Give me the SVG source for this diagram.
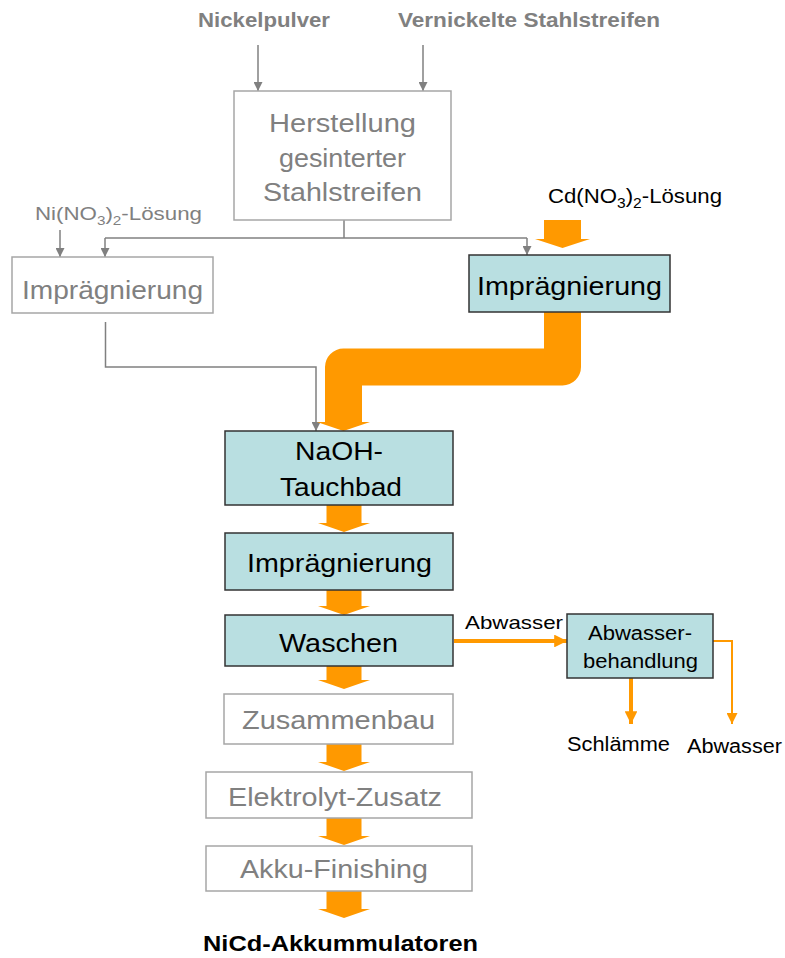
<svg xmlns="http://www.w3.org/2000/svg" width="785" height="958" viewBox="0 0 785 958">
<style>
text{font-family:"Liberation Sans",Arial,sans-serif}
.hdr{font-size:20px;font-weight:bold;fill:#808080;text-anchor:middle}
.gbox{fill:#ffffff;stroke:#a6a6a6;stroke-width:1.5}
.tbox{fill:#b9dfe1;stroke:#333333;stroke-width:1.5}
.gt{font-size:26px;fill:#808080;text-anchor:middle}
.bt{font-size:26px;fill:#000000;text-anchor:middle}
.st{font-size:20px;fill:#000000;text-anchor:middle}
.gline{fill:none;stroke:#808080;stroke-width:1.5}
.oarr{fill:#ff9900}
.oline{fill:none;stroke:#ff9900}
</style>
<defs>
<marker id="ga" viewBox="0 0 10 10" refX="10" refY="5" markerWidth="6.5" markerHeight="6" orient="auto" markerUnits="strokeWidth">
<path d="M0,0 L10,5 L0,10 z" fill="#808080"/>
</marker>
<marker id="oa" viewBox="0 0 10 10" refX="10" refY="5" markerWidth="3.2" markerHeight="3.2" orient="auto" markerUnits="strokeWidth">
<path d="M0,0 L10,5 L0,10 z" fill="#ff9900"/>
</marker>
<marker id="oa2" viewBox="0 0 10 10" refX="10" refY="5" markerWidth="5.5" markerHeight="5.5" orient="auto" markerUnits="strokeWidth">
<path d="M0,0 L10,5 L0,10 z" fill="#ff9900"/>
</marker>
</defs>

<g id="inputs">
<text class="hdr" x="264" y="27" textLength="132" lengthAdjust="spacingAndGlyphs">Nickelpulver</text>
<text class="hdr" x="529" y="27" textLength="262" lengthAdjust="spacingAndGlyphs">Vernickelte Stahlstreifen</text>
<text x="35" y="220" font-size="19" fill="#808080" textLength="167" lengthAdjust="spacingAndGlyphs">Ni(NO<tspan font-size="13" dy="5">3</tspan><tspan dy="-5">)</tspan><tspan font-size="13" dy="5">2</tspan><tspan dy="-5">-Lösung</tspan></text>
<text x="548" y="203" font-size="20" fill="#000000" textLength="174" lengthAdjust="spacingAndGlyphs">Cd(NO<tspan font-size="14" dy="5">3</tspan><tspan dy="-5">)</tspan><tspan font-size="14" dy="5">2</tspan><tspan dy="-5">-Lösung</tspan></text>
</g>

<g id="connectors">
<line class="gline" x1="258" y1="45" x2="258" y2="91" marker-end="url(#ga)"/>
<line class="gline" x1="423" y1="45" x2="423" y2="91" marker-end="url(#ga)"/>
<polyline class="gline" points="344,220 344,238"/>
<polyline class="gline" points="105,238 527,238"/>
<line class="gline" x1="105" y1="238" x2="105" y2="257" marker-end="url(#ga)"/>
<line class="gline" x1="527" y1="238" x2="527" y2="255" marker-end="url(#ga)"/>
<line class="gline" x1="60" y1="230" x2="60" y2="257" marker-end="url(#ga)"/>
<polyline class="gline" points="105.5,322 105.5,367 316,367 316,431" marker-end="url(#ga)"/>
<polygon class="oarr" points="544,220 581,220 581,239 590,239 562.5,248 535,239 544,239"/>
<path d="M562.5,312 V367 H343.5 V423" fill="none" stroke="#ff9900" stroke-width="37" stroke-linejoin="round"/>
<polygon class="oarr" points="317,422 370,422 343.5,431"/>
<polygon class="oarr" points="326.5,505 361.5,505 361.5,523 370,523 344,532 318,523 326.5,523"/>
<polygon class="oarr" points="326.5,590 361.5,590 361.5,606 370,606 344,615 318,606 326.5,606"/>
<polygon class="oarr" points="326.5,666 361.5,666 361.5,680 370,680 344,689 318,680 326.5,680"/>
<polygon class="oarr" points="326.5,744 361.5,744 361.5,762 370,762 344,771 318,762 326.5,762"/>
<polygon class="oarr" points="326.5,818 361.5,818 361.5,836 370,836 344,845 318,836 326.5,836"/>
<polygon class="oarr" points="326.5,891 361.5,891 361.5,909 370,909 344,918 318,909 326.5,909"/>
<line class="oline" stroke-width="4" x1="454" y1="641" x2="567" y2="641" marker-end="url(#oa)"/>
<line class="oline" stroke-width="4" x1="631" y1="678" x2="631" y2="724" marker-end="url(#oa)"/>
<polyline class="oline" stroke-width="2" points="713,641 732,641 732,724" marker-end="url(#oa2)"/>
<text x="465" y="629" font-size="19" fill="#000" textLength="98" lengthAdjust="spacingAndGlyphs">Abwasser</text>
</g>

<g id="herstellung">
<rect class="gbox" x="234" y="91" width="217" height="129"/>
<text class="gt" x="342.5" y="132" textLength="147" lengthAdjust="spacingAndGlyphs">Herstellung</text>
<text class="gt" x="342.5" y="167" textLength="127" lengthAdjust="spacingAndGlyphs">gesinterter</text>
<text class="gt" x="342.5" y="201" textLength="159" lengthAdjust="spacingAndGlyphs">Stahlstreifen</text>
</g>

<g id="impraegnierung-ni">
<rect class="gbox" x="12" y="257" width="201" height="56"/>
<text class="gt" x="112.5" y="299" textLength="181" lengthAdjust="spacingAndGlyphs">Imprägnierung</text>
</g>

<g id="impraegnierung-cd">
<rect class="tbox" x="469" y="255" width="201" height="57"/>
<text class="bt" x="569.5" y="295" textLength="185" lengthAdjust="spacingAndGlyphs">Imprägnierung</text>
</g>

<g id="naoh">
<rect class="tbox" x="225" y="431" width="228" height="74"/>
<text class="bt" x="339" y="460" textLength="88" lengthAdjust="spacingAndGlyphs">NaOH-</text>
<text class="bt" x="341" y="496" textLength="122" lengthAdjust="spacingAndGlyphs">Tauchbad</text>
</g>

<g id="impraegnierung-2">
<rect class="tbox" x="225" y="533" width="228" height="57"/>
<text class="bt" x="339.5" y="572" textLength="185" lengthAdjust="spacingAndGlyphs">Imprägnierung</text>
</g>

<g id="waschen">
<rect class="tbox" x="225" y="615" width="228" height="51"/>
<text class="bt" x="338.5" y="652" textLength="119" lengthAdjust="spacingAndGlyphs">Waschen</text>
</g>

<g id="abwasserbehandlung">
<rect class="tbox" x="567" y="614" width="146" height="64"/>
<text class="st" x="640" y="640" textLength="104" lengthAdjust="spacingAndGlyphs">Abwasser-</text>
<text class="st" x="640.5" y="668" textLength="115" lengthAdjust="spacingAndGlyphs">behandlung</text>
</g>

<g id="outputs-abwasser">
<text x="567" y="751" font-size="20" fill="#000" textLength="103" lengthAdjust="spacingAndGlyphs">Schlämme</text>
<text x="687" y="753" font-size="20" fill="#000" textLength="95" lengthAdjust="spacingAndGlyphs">Abwasser</text>
</g>

<g id="zusammenbau">
<rect class="gbox" x="224" y="694" width="229" height="50"/>
<text class="gt" x="338.5" y="729" textLength="193" lengthAdjust="spacingAndGlyphs">Zusammenbau</text>
</g>

<g id="elektrolyt">
<rect class="gbox" x="206" y="772" width="266" height="46"/>
<text class="gt" x="335" y="806" textLength="214" lengthAdjust="spacingAndGlyphs">Elektrolyt-Zusatz</text>
</g>

<g id="finishing">
<rect class="gbox" x="206" y="846" width="266" height="45"/>
<text class="gt" x="334" y="878" textLength="188" lengthAdjust="spacingAndGlyphs">Akku-Finishing</text>
</g>

<g id="produkt">
<text x="340.5" y="951" font-size="22" font-weight="bold" fill="#000" text-anchor="middle" textLength="275" lengthAdjust="spacingAndGlyphs">NiCd-Akkummulatoren</text>
</g>
</svg>
